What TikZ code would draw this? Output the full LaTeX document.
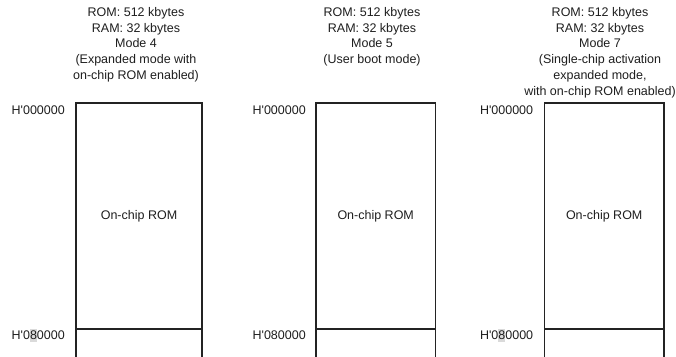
\documentclass[tikz,border=0pt]{standalone}
\usepackage{fontspec}
\setmainfont{Liberation Sans}
\usetikzlibrary{positioning}
\definecolor{EdgeGray}{RGB}{35,35,35}
\definecolor{TextGray}{RGB}{30,30,30}
\definecolor{MarkGray}{RGB}{218,218,218}
\newcommand{\addr}[1]{H\textquotesingle #1}
\newcommand{\markdigit}[1]{{\setlength{\fboxsep}{0pt}\colorbox{MarkGray}{\rule[-3pt]{0pt}{13pt}#1}}}

\begin{document}
\begin{tikzpicture}[
    x=1pt, y=-1pt,
    font=\fontsize{12.5}{15.8}\selectfont,
    membox/.style={rectangle, draw=EdgeGray, line width=1.2pt, minimum height=226pt, inner sep=0pt, outer sep=0pt, align=center, text=TextGray},
    lowbox/.style={rectangle, draw=EdgeGray, line width=1.2pt, minimum height=40pt, inner sep=0pt, outer sep=0pt},
    modetitle/.style={anchor=north, inner sep=0pt, align=center, text=TextGray},
    addrlbl/.style={anchor=east, inner sep=0pt, text=TextGray},
]
\useasboundingbox (0,0) rectangle (676,356);
\clip (0,0) rectangle (676,356);

% mode 4
\node[membox, minimum width=126pt] (rom4) at (139,216) {On-chip ROM};
\node[lowbox, minimum width=126pt, anchor=north] (ext4) at (rom4.south) {};
\node[modetitle] (title4) at (136,7) {ROM: 512 kbytes\\RAM: 32 kbytes\\Mode 4\\(Expanded mode with\\on-chip ROM enabled)};
\node[addrlbl, left=11pt of rom4.north west, yshift=-7pt] (top4) {\addr{000000}};
\node[addrlbl, left=11pt of rom4.south west, yshift=-6.5pt] (bot4) {\addr{0\markdigit{8}0000}};

% mode 5
\node[membox, minimum width=119.5pt] (rom5) at (375.7,216) {On-chip ROM};
\node[lowbox, minimum width=119.5pt, anchor=north] (ext5) at (rom5.south) {};
\node[modetitle] (title5) at (372,7) {ROM: 512 kbytes\\RAM: 32 kbytes\\Mode 5\\(User boot mode)};
\node[addrlbl, left=10pt of rom5.north west, yshift=-7pt] (top5) {\addr{000000}};
\node[addrlbl, left=10pt of rom5.south west, yshift=-6.5pt] (bot5) {\addr{080000}};

% mode 7
\node[membox, minimum width=119.7pt] (rom7) at (604.2,216) {On-chip ROM};
\node[lowbox, minimum width=119.7pt, anchor=north] (ext7) at (rom7.south) {};
\node[modetitle] (title7) at (600,7) {ROM: 512 kbytes\\RAM: 32 kbytes\\Mode 7\\(Single-chip activation\\expanded mode,\\with on-chip ROM enabled)};
\node[addrlbl, left=11pt of rom7.north west, yshift=-7pt] (top7) {\addr{000000}};
\node[addrlbl, left=11pt of rom7.south west, yshift=-6.5pt] (bot7) {\addr{0\markdigit{8}0000}};
\end{tikzpicture}
\end{document}
